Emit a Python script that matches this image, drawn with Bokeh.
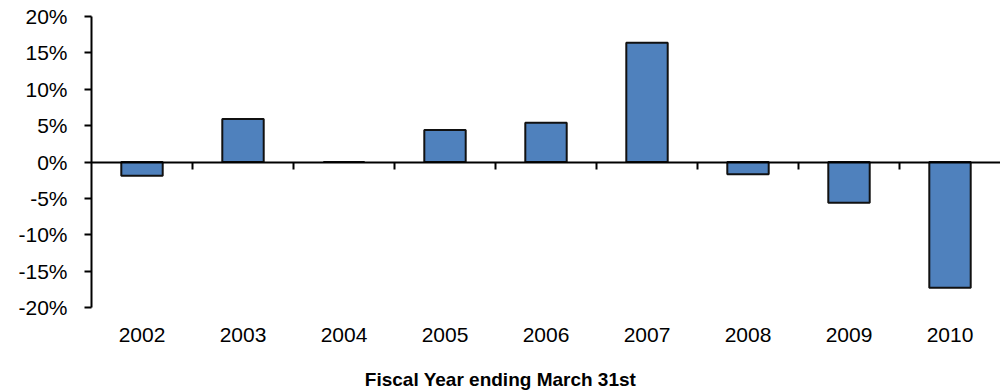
import numpy as np
from bokeh.plotting import figure
from bokeh.layouts import column
from bokeh.models import (Range1d, FixedTicker, LinearAxis, PrintfTickFormatter,
                          ColumnDataSource)
from bokeh.core.properties import value
from bokeh.embed import file_html
from bokeh.resources import INLINE

# Annual change by fiscal year (%)
years = ["2002", "2003", "2004", "2005", "2006", "2007", "2008", "2009", "2010"]
change = [-1.9, 5.9, 0.0, 4.4, 5.4, 16.4, -1.7, -5.6, -17.3]
y_ticks = [-20, -15, -10, -5, 0, 5, 10, 15, 20]
x_title = "Fiscal Year ending March 31st"

n = len(years)
centers = np.arange(n) + 0.5
source = ColumnDataSource(data=dict(x=centers, top=change, year=years))

FONT = "Liberation Sans"
BAR_BLUE = "#4F81BD"

p = figure(width=1000, height=360, output_backend="svg", toolbar_location=None,
           x_range=Range1d(0, n), y_range=Range1d(-20, 20),
           min_border_left=91, min_border_right=0, min_border_top=16,
           min_border_bottom=53)
p.outline_line_color = None
p.xgrid.grid_line_color = None
p.ygrid.grid_line_color = None
p.background_fill_color = "white"
p.border_fill_color = "white"

p.vbar(x="x", top="top", bottom=0, width=0.41, source=source,
       fill_color=BAR_BLUE, line_color="#111111", line_width=2)

# Year labels beneath the plot area
xa = p.xaxis[0]
xa.ticker = FixedTicker(ticks=list(centers))
xa.major_label_overrides = {float(c): y for c, y in zip(centers, years)}
xa.axis_line_color = None
xa.major_tick_line_color = None
xa.minor_tick_line_color = None
xa.major_tick_out = 0
xa.major_tick_in = 0
xa.major_label_standoff = 20
xa.major_label_text_font = FONT
xa.major_label_text_font_size = "21px"
xa.major_label_text_color = "#000000"

# Zero line with category divider ticks pointing down (no labels)
dividers = list(range(1, n))
zero_axis = LinearAxis(fixed_location=0, ticker=FixedTicker(ticks=dividers))
zero_axis.major_label_overrides = {d: "" for d in dividers}
zero_axis.major_label_standoff = 0
zero_axis.axis_line_color = "#000000"
zero_axis.axis_line_width = 2
zero_axis.major_tick_line_color = "#000000"
zero_axis.major_tick_line_width = 2
zero_axis.major_tick_out = 0
zero_axis.major_tick_in = 7
zero_axis.minor_tick_line_color = None
p.add_layout(zero_axis, "above")

# Percentage axis
ya = p.yaxis[0]
ya.ticker = FixedTicker(ticks=y_ticks)
ya.formatter = PrintfTickFormatter(format="%d%%")
ya.axis_line_color = "#000000"
ya.axis_line_width = 2
ya.major_tick_line_color = "#000000"
ya.major_tick_line_width = 2
ya.major_tick_out = 7
ya.major_tick_in = 0
ya.minor_tick_line_color = None
ya.major_label_standoff = 17
ya.major_label_text_font = FONT
ya.major_label_text_font_size = "21px"
ya.major_label_text_color = "#000000"

# Horizontal-axis title strip; its frame lines up with the chart frame,
# so the text sits at the page centre (x = 500 px)
t = figure(width=1000, height=30, output_backend="svg", toolbar_location=None,
           x_range=Range1d(0, 1), y_range=Range1d(0, 1),
           min_border=0, min_border_left=0, min_border_right=0,
           min_border_top=0, min_border_bottom=0)
t.axis.visible = False
t.grid.visible = False
t.outline_line_color = None
t.background_fill_color = "white"
t.border_fill_color = "white"
t.text(x=[0.45], y=[0.37], text=[x_title], text_align="center",
       text_baseline="middle", text_font=value(FONT), text_font_size="19px",
       text_font_style="bold", text_color="#000000")

layout = column(p, t, spacing=0)
open("out.html", "w").write(file_html(layout, INLINE))
